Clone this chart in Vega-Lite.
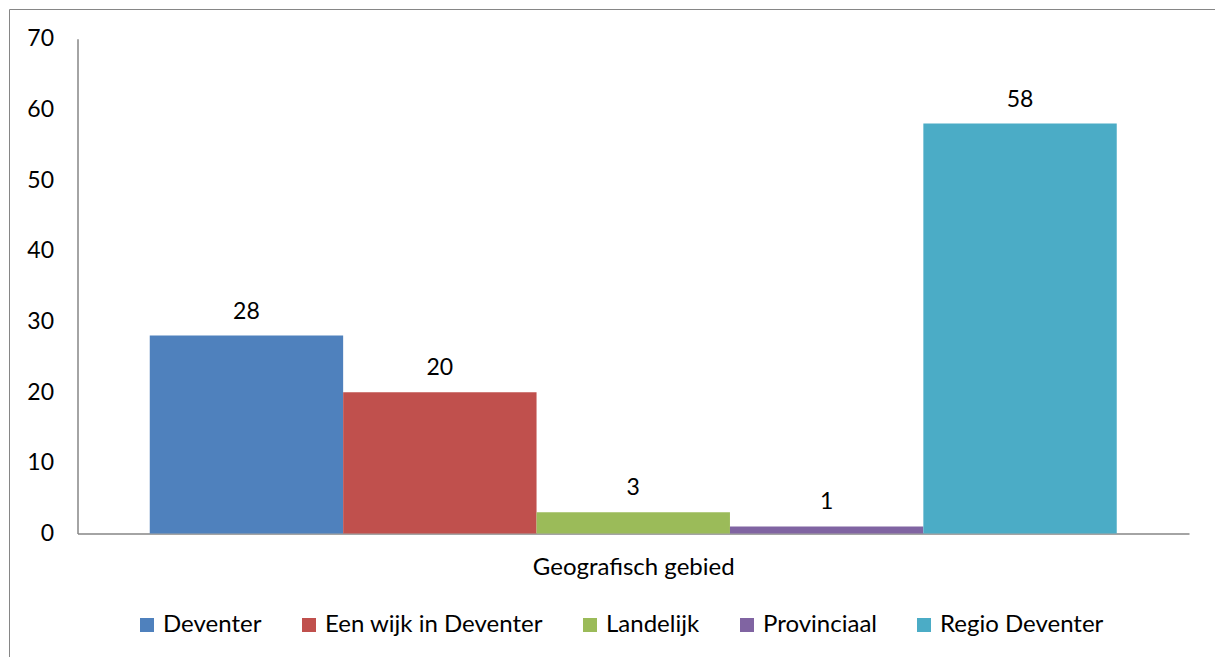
{
  "$schema": "https://vega.github.io/schema/vega-lite/v6.json",
  "width": 1215,
  "height": 660,
  "autosize": {"type": "none"},
  "padding": {"left": 9, "top": 9, "right": 0, "bottom": 0},
  "background": "white",
  "config": {
    "view": {"stroke": "#868686", "strokeWidth": 1},
    "font": "Lato",
    "text": {"font": "Lato"}
  },
  "data": {
    "values": [
      {"Gebied": "Deventer", "Aantal": 28},
      {"Gebied": "Een wijk in Deventer", "Aantal": 20},
      {"Gebied": "Landelijk", "Aantal": 3},
      {"Gebied": "Provinciaal", "Aantal": 1},
      {"Gebied": "Regio Deventer", "Aantal": 58}
    ]
  },
  "encoding": {
    "x": {
      "field": "Gebied",
      "type": "nominal",
      "sort": null,
      "scale": {"range": [68.5, 1180], "paddingInner": 0, "paddingOuter": 0.3736},
      "axis": {
        "title": "Geografisch gebied",
        "labels": false,
        "ticks": false,
        "tickSize": 0,
        "offset": -135.5,
        "domainColor": "#868686",
        "domainWidth": 1.5,
        "titleFont": "Lato",
        "titleFontSize": 24,
        "titleFontWeight": "normal",
        "titleColor": "#000000",
        "titlePadding": 22
      }
    },
    "y": {
      "field": "Aantal",
      "type": "quantitative",
      "scale": {"domain": [0, 70], "range": [524.5, 29.8], "nice": false},
      "axis": {
        "title": null,
        "values": [0, 10, 20, 30, 40, 50, 60, 70],
        "grid": false,
        "ticks": false,
        "tickSize": 0,
        "offset": -68.5,
        "domainColor": "#868686",
        "domainWidth": 1.5,
        "labelFont": "Lato",
        "labelFontSize": 23,
        "labelColor": "#000000",
        "labelPadding": 24
      }
    }
  },
  "layer": [
    {
      "mark": {"type": "bar"},
      "encoding": {
        "color": {
          "field": "Gebied",
          "type": "nominal",
          "sort": null,
          "scale": {
            "domain": ["Deventer", "Een wijk in Deventer", "Landelijk", "Provinciaal", "Regio Deventer"],
            "range": ["#4F81BD", "#C0504D", "#9BBB59", "#8064A2", "#4BACC6"]
          },
          "legend": {
            "title": null,
            "orient": "none",
            "direction": "horizontal",
            "legendX": 126,
            "legendY": 604,
            "padding": 0,
            "symbolType": "square",
            "symbolSize": 196,
            "symbolStrokeWidth": 0,
            "labelFont": "Lato",
            "labelFontSize": 24,
            "labelColor": "#000000",
            "labelOffset": 4,
            "columnPadding": 35,
            "labelLimit": 400
          }
        }
      }
    },
    {
      "mark": {"type": "text", "font": "Lato", "fontSize": 23, "color": "#000000", "baseline": "alphabetic", "dy": -17},
      "encoding": {
        "text": {"field": "Aantal", "type": "quantitative"}
      }
    }
  ]
}
